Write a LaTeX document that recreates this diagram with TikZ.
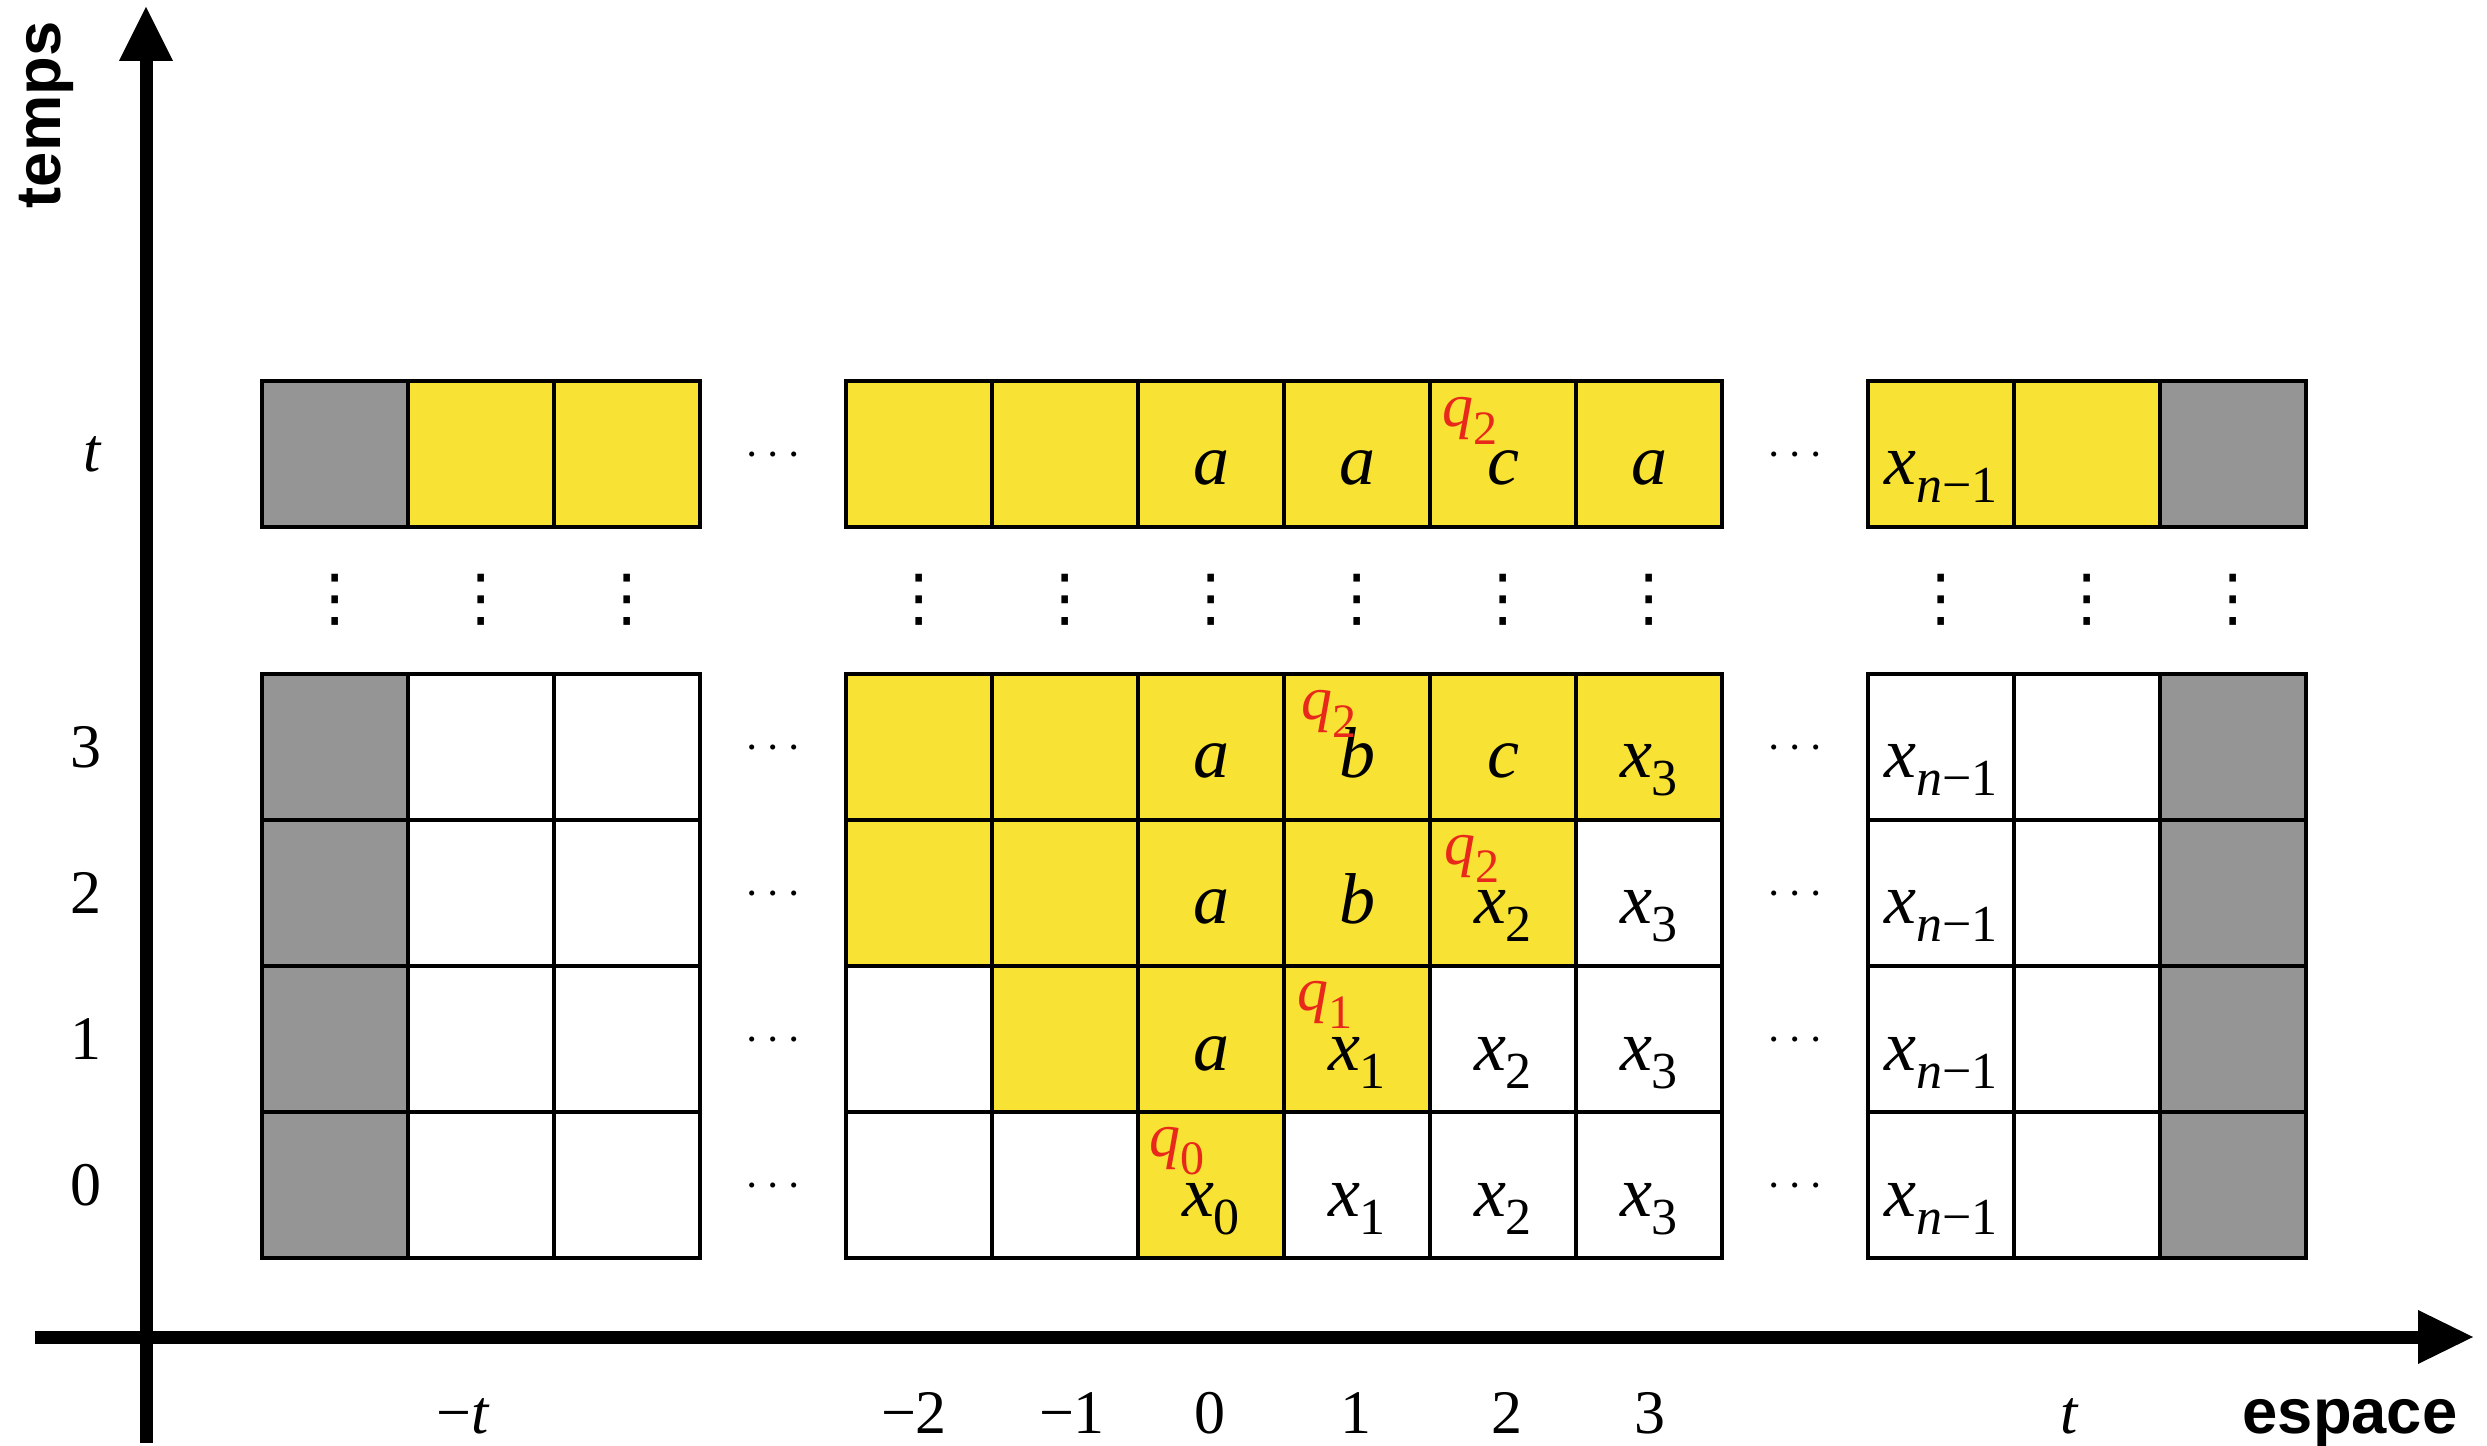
\documentclass[tikz,border=0pt]{standalone}
\usepackage{fix-cm}
\usepackage[no-math]{fontspec}
\setmainfont{Liberation Serif}
\newfontfamily\axisfont{Liberation Sans}
\newfontfamily\dotsfont{DejaVu Sans}

\definecolor{cellyellow}{RGB}{248,226,52}
\definecolor{cellgray}{RGB}{149,149,149}
\definecolor{qred}{RGB}{232,40,26}

% symbol with a lowered, smaller index
\newcommand\cellsub[2]{\textit{#1}\raisebox{-5.4pt}{\fontsize{15.6}{16}\selectfont #2}}
\newcommand\qsub[2]{\textit{#1}\raisebox{-5.4pt}{\fontsize{14.4}{15}\selectfont #2}}

\tikzset{
  cell/.style={draw=black, line width=1.45pt, minimum width=43.8pt, minimum height=43.8pt,
    inner sep=0pt, text height=20pt, text depth=1.4pt, font=\fontsize{21.6}{24}\selectfont},
  wcell/.style={cell, fill=white},
  ycell/.style={cell, fill=cellyellow},
  gcell/.style={cell, fill=cellgray},
  qlabel/.style={anchor=base west, inner sep=0pt, text=qred, font=\fontsize{18.6}{20}\selectfont},
  ticklab/.style={inner sep=0pt, font=\fontsize{18.6}{20}\selectfont},
  axisname/.style={inner sep=0pt, font=\axisfont\bfseries\fontsize{19}{20}\selectfont},
  vdotnode/.style={inner sep=0pt, font=\dotsfont\fontsize{19}{19}\selectfont},
  hdotnode/.style={inner sep=0pt, anchor=base, font=\fontsize{14.4}{16}\selectfont},
  axisline/.style={line width=3.9pt},
}

\begin{document}
\begin{tikzpicture}[x=0.3pt, y=-0.3pt]
\useasboundingbox (0,0) rectangle (2487,1446);

% ---- axes ----
\coordinate (ybot) at (146,1443);
\coordinate (ybase) at (146,61);
\coordinate (ytip) at (146,7);
\coordinate (xleft) at (35,1337);
\coordinate (xbase) at (2418,1337);
\coordinate (xtip) at (2473,1337);
\draw[axisline] (ybot) -- (ybase);
\fill ([shift={(-27,0)}]ybase) -- ([shift={(27,0)}]ybase) -- (ytip) -- cycle;
\draw[axisline] (xleft) -- (xbase);
\fill ([shift={(0,-27)}]xbase) -- ([shift={(0,27)}]xbase) -- (xtip) -- cycle;

\node[axisname, rotate=90, anchor=base] (temps) at (60,115) {temps};
\node[axisname, anchor=base] (espace) at (2350,1433) {espace};

% ---- tape at time t ----
\foreach \c/\s/\t in {0/gcell/{},1/ycell/{},2/ycell/{},
    4/ycell/{},5/ycell/{},6/ycell/{\textit{a}},7/ycell/{\textit{a}},8/ycell/{\textit{c}},9/ycell/{\textit{a}},
    11/ycell/{\cellsub{x}{\textit{n}−1}},12/ycell/{},13/gcell/{}}
  \node[\s] (c\c-t) at ({335+146*\c},454) {\t};

% ---- time 3 ----
\foreach \c/\s/\t in {0/gcell/{},1/wcell/{},2/wcell/{},
    4/ycell/{},5/ycell/{},6/ycell/{\textit{a}},7/ycell/{\textit{b}},8/ycell/{\textit{c}},9/ycell/{\cellsub{x}{3}},
    11/wcell/{\cellsub{x}{\textit{n}−1}},12/wcell/{},13/gcell/{}}
  \node[\s] (c\c-3) at ({335+146*\c},747) {\t};

% ---- time 2 ----
\foreach \c/\s/\t in {0/gcell/{},1/wcell/{},2/wcell/{},
    4/ycell/{},5/ycell/{},6/ycell/{\textit{a}},7/ycell/{\textit{b}},8/ycell/{\cellsub{x}{2}},9/wcell/{\cellsub{x}{3}},
    11/wcell/{\cellsub{x}{\textit{n}−1}},12/wcell/{},13/gcell/{}}
  \node[\s] (c\c-2) at ({335+146*\c},893) {\t};

% ---- time 1 ----
\foreach \c/\s/\t in {0/gcell/{},1/wcell/{},2/wcell/{},
    4/wcell/{},5/ycell/{},6/ycell/{\textit{a}},7/ycell/{\cellsub{x}{1}},8/wcell/{\cellsub{x}{2}},9/wcell/{\cellsub{x}{3}},
    11/wcell/{\cellsub{x}{\textit{n}−1}},12/wcell/{},13/gcell/{}}
  \node[\s] (c\c-1) at ({335+146*\c},1039) {\t};

% ---- time 0 ----
\foreach \c/\s/\t in {0/gcell/{},1/wcell/{},2/wcell/{},
    4/wcell/{},5/wcell/{},6/ycell/{\cellsub{x}{0}},7/wcell/{\cellsub{x}{1}},8/wcell/{\cellsub{x}{2}},9/wcell/{\cellsub{x}{3}},
    11/wcell/{\cellsub{x}{\textit{n}−1}},12/wcell/{},13/gcell/{}}
  \node[\s] (c\c-0) at ({335+146*\c},1185) {\t};

% ---- head states ----
\node[qlabel] (q0) at ([shift={(13,47)}]c6-0.north west) {\qsub{q}{0}};
\node[qlabel] (q1) at ([shift={(15,47)}]c7-1.north west) {\qsub{q}{1}};
\node[qlabel] (q2a) at ([shift={(16,47)}]c8-2.north west) {\qsub{q}{2}};
\node[qlabel] (q2b) at ([shift={(19,48)}]c7-3.north west) {\qsub{q}{2}};
\node[qlabel] (q2c) at ([shift={(14,48)}]c8-t.north west) {\qsub{q}{2}};

% ---- ellipses ----
\foreach \c in {0,1,2,4,5,6,7,8,9,11,12,13}
  \node[vdotnode] (vd\c) at ({335+146*\c},600) {⋮};
\foreach \r/\y in {t/454,3/747,2/893,1/1039,0/1185} {
  \node[hdotnode] (hl\r) at (773,\y+12.5) {$\cdots$};
  \node[hdotnode] (hr\r) at (1795,\y+12.5) {$\cdots$};
}

% ---- time labels ----
\node[ticklab] (lt) at (93,454) {\textit{t}};
\node[ticklab] (l3) at (86,747) {3};
\node[ticklab] (l2) at (86,893) {2};
\node[ticklab] (l1) at (86,1039) {1};
\node[ticklab] (l0) at (86,1185) {0};

% ---- position labels ----
\foreach \x/\t/\n in {463/{−\textit{t}}/mt,914/{−2}/m2,1072/{−1}/m1,1210/{0}/p0,1356/{1}/p1,1507/{2}/p2,1650/{3}/p3,2070/{\textit{t}}/pt}
  \node[ticklab, anchor=base] (x\n) at (\x,1433) {\t};
\end{tikzpicture}
\end{document}
